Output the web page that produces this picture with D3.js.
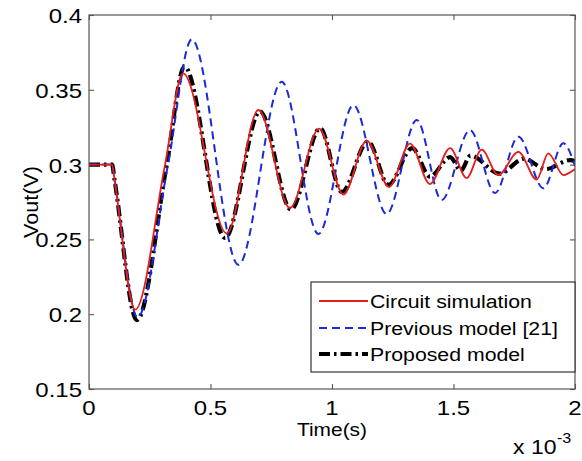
<!DOCTYPE html>
<html>
<head>
<meta charset="utf-8">
<script src="https://cdn.jsdelivr.net/npm/d3@7"></script>
<style>
  body { margin: 0; background: #fff; }
  text { font-family: Arial, "Liberation Sans", sans-serif; fill: #000; }
</style>
</head>
<body>
<svg id="chart"></svg>
<script>
const width = 582, height = 461
const margin = { top: 15, right: 7, bottom: 72, left: 89 }

// time in ms (axis shows x 10^-3 s), Vout in V
const circuitT = [0, 0.095, 0.105, 0.19, 0.313, 0.387, 0.567, 0.697, 0.827, 0.947, 1.047, 1.143, 1.235, 1.321, 1.403, 1.486, 1.554, 1.616, 1.684, 1.767, 1.842, 1.89, 1.952, 2.0]
const circuitV = [0.3, 0.3, 0.29, 0.203, 0.3, 0.361, 0.254, 0.3365, 0.271, 0.324, 0.28, 0.316, 0.285, 0.314, 0.287, 0.311, 0.291, 0.31, 0.293, 0.3085, 0.29, 0.3075, 0.293, 0.297]

const previousT = [0, 0.095, 0.105, 0.2, 0.325, 0.423, 0.615, 0.793, 0.944, 1.088, 1.225, 1.349, 1.451, 1.568, 1.671, 1.767, 1.87, 1.952, 2.0]
const previousV = [0.3, 0.3, 0.29, 0.198, 0.3, 0.3837, 0.233, 0.3554, 0.2536, 0.3398, 0.267, 0.3298, 0.2763, 0.3231, 0.281, 0.3187, 0.2842, 0.3142, 0.299]

const proposedT = [0, 0.095, 0.105, 0.197, 0.32, 0.393, 0.56, 0.704, 0.831, 0.951, 1.04, 1.148, 1.232, 1.33, 1.403, 1.486, 1.53, 1.57, 1.69, 1.79, 1.88, 1.98, 2.0]
const proposedV = [0.3, 0.3, 0.29, 0.196, 0.3, 0.3655, 0.251, 0.3355, 0.27, 0.3243, 0.2817, 0.3155, 0.2865, 0.311, 0.292, 0.305, 0.296, 0.306, 0.294, 0.304, 0.297, 0.303, 0.3025]

const xTicks = [0, 0.5, 1, 1.5, 2]
const xTickLabels = ['0', '0.5', '1', '1.5', '2']
const yTicks = [0.15, 0.2, 0.25, 0.3, 0.35, 0.4]
const yTickLabels = ['0.15', '0.2', '0.25', '0.3', '0.35', '0.4']

const legendLabels = ['Circuit simulation', 'Previous model [21]', 'Proposed model']

const zip = (ts, vs) => ts.map((t, i) => [t, vs[i]])

const series = [
  { data: zip(proposedT, proposedV), color: '#000', width: 4.2, dash: '11,4,2.5,4' },
  { data: zip(previousT, previousV), color: '#1a2ad6', width: 2, dash: '8,5' },
  { data: zip(circuitT, circuitV), color: '#e41e1e', width: 1.8, dash: null }
]

const svg = d3.select('#chart').attr('width', width).attr('height', height)

const x = d3.scaleLinear().domain([0, 2]).range([margin.left, width - margin.right])
const y = d3.scaleLinear().domain([0.15, 0.4]).range([height - margin.bottom, margin.top])

const axisColor = '#555'

svg.append('clipPath').attr('id', 'clip').append('rect')
  .attr('x', x(0)).attr('y', y(0.4))
  .attr('width', x(2) - x(0)).attr('height', y(0.15) - y(0.4))

// ticks on all four sides, pointing inward
const drawAxis = (axis, tx, ty) => {
  const g = svg.append('g').attr('transform', `translate(${tx},${ty})`).call(axis)
  g.select('.domain').remove()
  g.selectAll('line').attr('stroke', axisColor).attr('stroke-width', 1.1)
  g.selectAll('text').remove()
}
drawAxis(d3.axisBottom(x).tickValues(xTicks).tickSizeInner(-5).tickSizeOuter(0), 0, y(0.15))
drawAxis(d3.axisTop(x).tickValues(xTicks).tickSizeInner(-5).tickSizeOuter(0), 0, y(0.4))
drawAxis(d3.axisLeft(y).tickValues(yTicks).tickSizeInner(-5).tickSizeOuter(0), x(0), 0)
drawAxis(d3.axisRight(y).tickValues(yTicks).tickSizeInner(-5).tickSizeOuter(0), x(2), 0)

const line = d3.line()
  .x(d => x(d[0]))
  .y(d => y(d[1]))
  .curve(d3.curveMonotoneX)

const plot = svg.append('g').attr('clip-path', 'url(#clip)')
series.forEach(s => {
  plot.append('path')
    .attr('d', line(s.data))
    .attr('fill', 'none')
    .attr('stroke', s.color)
    .attr('stroke-width', s.width)
    .attr('stroke-dasharray', s.dash)
    .attr('stroke-linejoin', 'round')
})

svg.append('rect')
  .attr('x', x(0)).attr('y', y(0.4))
  .attr('width', x(2) - x(0)).attr('height', y(0.15) - y(0.4))
  .attr('fill', 'none').attr('stroke', axisColor).attr('stroke-width', 1.2)

// wide text, like the original bitmap font
const addText = (str, px, py, size, anchor, sx, rot) => svg.append('text')
  .attr('transform', `translate(${px},${py})` + (rot ? ` rotate(${rot})` : '') + ` scale(${sx},1)`)
  .attr('text-anchor', anchor)
  .attr('font-size', size)
  .text(str)

xTicks.forEach((t, i) => addText(xTickLabels[i], x(t), y(0.15) + 26, 20, 'middle', 1.2))
yTicks.forEach((t, i) => addText(yTickLabels[i], x(0) - 7, y(t) + 8, 20, 'end', 1.2))

addText('x 10', 513, 454, 20, 'start', 1.15)
addText('-3', 557, 443, 14, 'start', 1.15)
addText('Time(s)', (x(0) + x(2)) / 2, 436, 19, 'middle', 1.1)
addText('Vout(V)', 38, (y(0.15) + y(0.4)) / 2, 20, 'middle', 1.08, -90)

// legend
const lg = { x: 311, y: 282, w: 264, h: 90 }
svg.append('rect')
  .attr('x', lg.x).attr('y', lg.y).attr('width', lg.w).attr('height', lg.h)
  .attr('fill', '#fff').attr('stroke', '#333').attr('stroke-width', 1.2)

const legendRows = [301, 328, 354]
const legendOrder = [2, 1, 0]
legendRows.forEach((ry, i) => {
  const s = series[legendOrder[i]]
  svg.append('line')
    .attr('x1', lg.x + 8).attr('x2', lg.x + 57)
    .attr('y1', ry).attr('y2', ry)
    .attr('stroke', s.color).attr('stroke-width', s.width)
    .attr('stroke-dasharray', s.dash)
  addText(legendLabels[i], lg.x + 59, ry + 7, 19, 'start', 1.12)
})
</script>
</body>
</html>
